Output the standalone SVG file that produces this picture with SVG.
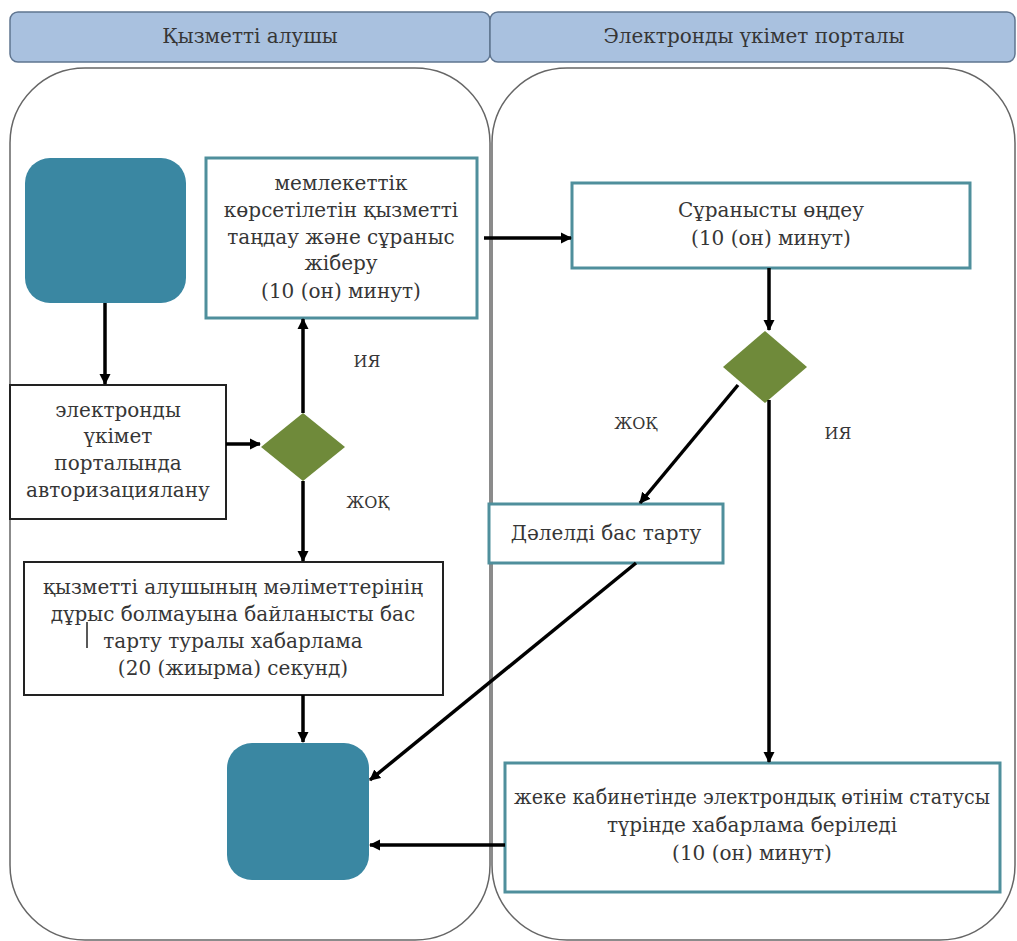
<svg xmlns="http://www.w3.org/2000/svg" width="1017" height="941" viewBox="0 0 1017 941">
<defs>
<marker id="ah" markerWidth="12" markerHeight="12" refX="10" refY="6" orient="auto" markerUnits="userSpaceOnUse">
<path d="M0,0.5 L11,6 L0,11.5 Z" fill="#000"/>
</marker>
<style>
text{font-family:"DejaVu Serif","Liberation Serif",serif;fill:#363636;font-size:20px;text-anchor:middle}
.hdr{fill:#A9C1DF;stroke:#5F7590;stroke-width:1.5}
.lane{fill:#fff;stroke:#666;stroke-width:1.5}
.term{fill:#3A87A2}
.tbox{fill:#fff;stroke:#4F8F9C;stroke-width:3}
.bbox{fill:#fff;stroke:#222;stroke-width:2}
.dia{fill:#6F8A3A}
.c{stroke:#000;stroke-width:3.5;fill:none;marker-end:url(#ah)}
.lbl{font-size:16px}
</style>
</defs>
<rect width="1017" height="941" fill="#fff"/>
<g id="lane-left">
<rect class="lane" x="10" y="68" width="480" height="872" rx="75" ry="75"/>
<rect class="hdr" x="10" y="12" width="480" height="50" rx="8"/>
<text x="250" y="43">Қызметті алушы</text>
</g>
<g id="lane-right">
<rect class="lane" x="492" y="68" width="523" height="872" rx="75" ry="75"/>
<rect class="hdr" x="490" y="12" width="525" height="50" rx="8"/>
<text x="754" y="43">Электронды үкімет порталы</text>
</g>
<g id="start"><rect class="term" x="25" y="158" width="161" height="145" rx="25"/></g>
<g id="select">
<rect class="tbox" x="206" y="158" width="271" height="160"/>
<text x="341" y="190">мемлекеттік</text>
<text x="341" y="217">көрсетілетін қызметті</text>
<text x="341" y="244">таңдау және сұраныс</text>
<text x="341" y="270">жіберу</text>
<text x="341" y="298">(10 (он) минут)</text>
</g>
<g id="auth">
<rect class="bbox" x="10" y="385" width="216" height="134"/>
<text x="118" y="417">электронды</text>
<text x="118" y="443">үкімет</text>
<text x="118" y="470">порталында</text>
<text x="118" y="497">авторизациялану</text>
</g>
<g id="dec1"><polygon class="dia" points="303,413 345,447 303,481 261,447"/></g>
<g id="reject1">
<rect class="bbox" x="24" y="562" width="419" height="133"/>
<text x="233" y="594">қызметті алушының мәліметтерінің</text>
<text x="233" y="621">дұрыс болмауына байланысты бас</text>
<text x="233" y="648">тарту туралы хабарлама</text>
<text x="233" y="675">(20 (жиырма) секунд)</text>
<line x1="87" y1="622" x2="87" y2="648" stroke="#222" stroke-width="1.5"/>
</g>
<g id="end"><rect class="term" x="227" y="743" width="142" height="137" rx="25"/></g>
<g id="process">
<rect class="tbox" x="572" y="183" width="398" height="85"/>
<text x="771" y="217">Сұранысты өңдеу</text>
<text x="771" y="245">(10 (он)  минут)</text>
</g>
<g id="dec2"><polygon class="dia" points="765,331 807,367 765,403 723,367"/></g>
<g id="refuse">
<rect class="tbox" x="489" y="504" width="234" height="59"/>
<text x="606" y="540">Дәлелді бас тарту</text>
</g>
<g id="notify">
<rect class="tbox" x="505" y="763" width="495" height="129"/>
<text x="752" y="804" textLength="476" lengthAdjust="spacingAndGlyphs">жеке кабинетінде  электрондық өтінім  статусы</text>
<text x="752" y="832">түрінде хабарлама беріледі</text>
<text x="752" y="860">(10 (он) минут)</text>
</g>
<g id="labels">
<text class="lbl" x="367" y="367">ИЯ</text>
<text class="lbl" x="368" y="508">ЖОҚ</text>
<text class="lbl" x="636" y="429">ЖОҚ</text>
<text class="lbl" x="838" y="439">ИЯ</text>
</g>
<g id="connectors">
<line class="c" x1="105" y1="303" x2="105" y2="384"/>
<line class="c" x1="226" y1="444" x2="260" y2="444"/>
<line class="c" x1="303" y1="413" x2="303" y2="319"/>
<line class="c" x1="303" y1="481" x2="303" y2="561"/>
<line class="c" x1="484" y1="238" x2="571" y2="238"/>
<line class="c" x1="769" y1="268" x2="769" y2="330"/>
<line class="c" x1="738" y1="385" x2="640" y2="503"/>
<line class="c" x1="769" y1="400" x2="769" y2="762"/>
<line class="c" x1="636" y1="563" x2="370" y2="780"/>
<line class="c" x1="505" y1="845" x2="370" y2="845"/>
<line class="c" x1="303" y1="695" x2="303" y2="742"/>
</g>
</svg>
